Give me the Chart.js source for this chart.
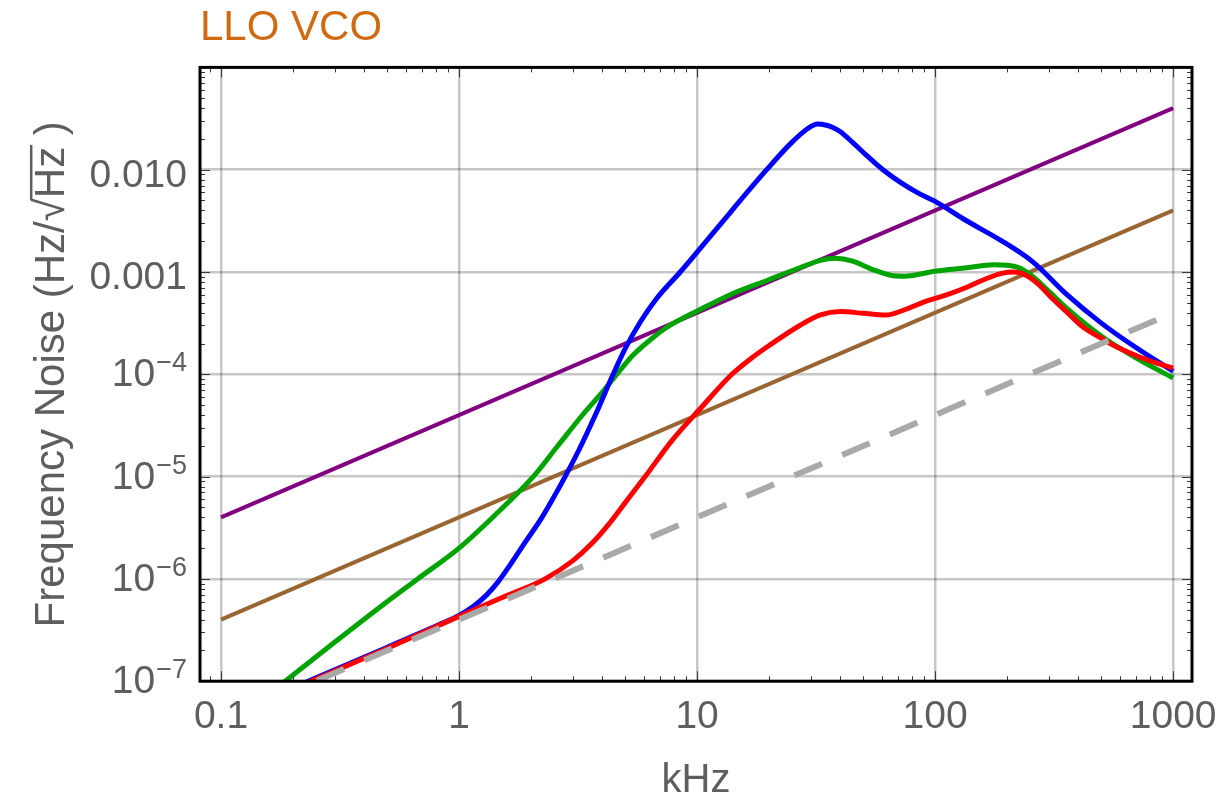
<!DOCTYPE html>
<html>
<head>
<meta charset="utf-8">
<title>LLO VCO</title>
<script src="https://cdn.jsdelivr.net/npm/chart.js@4.4.1/dist/chart.umd.min.js"></script>
<style>
  html, body { margin: 0; padding: 0; background: #ffffff; }
  canvas { display: block; }
</style>
</head>
<body>
<canvas id="noise" width="1232" height="799"></canvas>
<script>
// Frequency axis (kHz) ticks and labels
const xTicks = [0.1, 1, 10, 100, 1000];
const xTickLabels = ['0.1', '1', '10', '100', '1000'];

// Noise axis (Hz/sqrt(Hz)) ticks: mantissa text and superscript exponent
const yTicks = [1e-7, 1e-6, 1e-5, 1e-4, 1e-3, 1e-2];
const yTickBase = ['10', '10', '10', '10', '0.001', '0.010'];
const yTickExp = ['\u22127', '\u22126', '\u22125', '\u22124', '', ''];

// Straight reference lines (purple, brown, grey dashed)
const purpleFreq = [0.1, 1000];
const purpleNoise = [4e-6, 4e-2];
const brownFreq = [0.1, 1000];
const brownNoise = [4e-7, 4e-3];
const grayFreq = [0.1, 1000];
const grayNoise = [4e-8, 4e-4];

// Green curve
const greenFreq = [0.15, 0.186, 0.3, 0.45, 0.67, 1, 1.4, 2.05, 2.6, 3.3, 4, 4.6, 5.4, 6.4, 7.5, 10.3, 14, 20, 27, 33, 38, 45, 55, 65, 75, 88, 100, 136, 176, 220, 258, 300, 358, 500, 680, 1000];
const greenNoise = [6.7e-8, 1e-7, 2.4e-7, 5e-7, 1e-6, 2e-6, 4.1e-6, 1e-5, 2e-5, 4e-5, 6.7e-5, 1e-4, 1.55e-4, 2.2e-4, 2.9e-4, 4.3e-4, 6.1e-4, 8.4e-4, 1.1e-3, 1.3e-3, 1.36e-3, 1.28e-3, 1.05e-3, 9.3e-4, 9.1e-4, 9.6e-4, 1.02e-3, 1.1e-3, 1.18e-3, 1.12e-3, 9e-4, 6.5e-4, 4.4e-4, 2.35e-4, 1.5e-4, 9.2e-5];

// Blue curve
const blueFreq = [0.2, 0.5, 0.83, 1, 1.15, 1.3, 1.45, 1.65, 1.9, 2.2, 2.5, 2.79, 3.2, 3.7, 4.44, 5, 5.8, 6.8, 8.5, 12, 19.6, 25, 29, 32, 35, 37, 40, 45, 51.5, 60, 71, 85, 100, 136, 188, 258, 358, 496, 680, 1000];
const blueNoise = [8.6e-8, 2.15e-7, 3.6e-7, 4.4e-7, 5.4e-7, 6.9e-7, 9.2e-7, 1.4e-6, 2.3e-6, 3.8e-6, 6.3e-6, 1e-5, 1.85e-5, 3.8e-5, 1e-4, 1.8e-4, 3.3e-4, 5.6e-4, 1e-3, 2.6e-3, 1e-2, 1.85e-2, 2.5e-2, 2.8e-2, 2.72e-2, 2.6e-2, 2.35e-2, 1.85e-2, 1.38e-2, 1.01e-2, 7.6e-3, 5.9e-3, 4.9e-3, 3.15e-3, 2.05e-3, 1.25e-3, 6e-4, 3.2e-4, 1.9e-4, 1.07e-4];

// Red curve
const redFreq = [0.2, 0.5, 1, 1.5, 2.3, 3, 3.6, 4.2, 5, 6.05, 7.9, 10.3, 14, 17, 20, 27, 33, 40, 50, 62, 75, 90, 110, 136, 160, 190, 215, 243, 275, 304, 360, 418, 500, 580, 800, 1000];
const redNoise = [8.4e-8, 2.1e-7, 4.3e-7, 6.5e-7, 1e-6, 1.5e-6, 2.2e-6, 3.3e-6, 5.6e-6, 1e-5, 2.3e-5, 4.6e-5, 1e-4, 1.45e-4, 1.9e-4, 3e-4, 3.8e-4, 4.1e-4, 3.95e-4, 3.8e-4, 4.3e-4, 5.1e-4, 5.9e-4, 7.1e-4, 8.4e-4, 9.7e-4, 1e-3, 9.2e-4, 7.4e-4, 5.8e-4, 4e-4, 2.9e-4, 2.25e-4, 1.85e-4, 1.35e-4, 1.15e-4];

const FONT = '"Liberation Sans", Arial, Helvetica, sans-serif';
const LABEL_COLOR = '#5e5e5e';
const GRID_COLOR = 'rgba(0, 0, 0, 0.22)';

const pairs = (f, v) => f.map((x, i) => ({ x: x, y: v[i] }));

// Frame with inward tick marks on all four sides
const frameTicks = {
  id: 'frameTicks',
  afterDatasetsDraw(chart) {
    const { ctx, chartArea: a, scales: { x, y } } = chart;
    ctx.save();
    ctx.strokeStyle = '#3a3a3a';
    ctx.lineWidth = 1;
    const seg = (x1, y1, x2, y2) => { ctx.beginPath(); ctx.moveTo(x1, y1); ctx.lineTo(x2, y2); ctx.stroke(); };
    for (let d = -2; d <= 3; d++) {
      for (let m = 1; m <= 9; m++) {
        const v = m * Math.pow(10, d);
        if (v < x.min || v > x.max) continue;
        const px = Math.round(x.getPixelForValue(v)) + 0.5;
        const len = m === 1 ? 10 : 5;
        seg(px, a.bottom, px, a.bottom - len);
        seg(px, a.top, px, a.top + len);
      }
    }
    for (let d = -8; d <= -1; d++) {
      for (let m = 1; m <= 9; m++) {
        const v = m * Math.pow(10, d);
        if (v < y.min * 0.999 || v > y.max * 1.001) continue;
        const py = Math.round(y.getPixelForValue(v)) + 0.5;
        const len = m === 1 ? 10 : 5;
        seg(a.left, py, a.left + len, py);
        seg(a.right, py, a.right - len, py);
      }
    }
    ctx.strokeStyle = '#000000';
    ctx.lineWidth = 3;
    ctx.strokeRect(a.left, a.top, a.right - a.left, a.bottom - a.top);
    ctx.restore();
  }
};

// Noise-axis labels with superscript exponents, plus the rotated axis title
const noiseAxisText = {
  id: 'noiseAxisText',
  afterDraw(chart) {
    const { ctx, chartArea: a, scales: { y } } = chart;
    ctx.save();
    ctx.fillStyle = LABEL_COLOR;
    ctx.textAlign = 'right';
    ctx.textBaseline = 'alphabetic';
    const right = a.left - 13;
    yTicks.forEach((v, i) => {
      const py = y.getPixelForValue(v);
      const exp = yTickExp[i];
      if (exp) {
        ctx.font = '27px ' + FONT;
        const ew = ctx.measureText(exp).width;
        ctx.fillText(exp, right, py - 3);
        ctx.font = '39px ' + FONT;
        ctx.fillText(yTickBase[i], right - ew - 1, py + 12);
      } else {
        ctx.font = '39px ' + FONT;
        ctx.fillText(yTickBase[i], right, py + 17);
      }
    });

    // axis title: Frequency Noise (Hz/√Hz ) with a bar over the radicand
    const size = 42;
    ctx.font = size + 'px ' + FONT;
    const head = 'Frequency Noise (Hz/';
    const root = '\u221A';
    const rad = 'Hz';
    const tail = ' )';
    const full = head + root + rad + tail;
    const total = ctx.measureText(full).width;
    const wHead = ctx.measureText(head).width;
    const wRoot = ctx.measureText(root).width;
    const wRad = ctx.measureText(rad).width;
    const rootAscent = ctx.measureText(root).actualBoundingBoxAscent;
    const cy = (a.top + a.bottom) / 2;
    ctx.translate(64, cy);
    ctx.rotate(-Math.PI / 2);
    ctx.textAlign = 'left';
    const x0 = -total / 2;
    ctx.fillText(full, x0, 0);
    ctx.strokeStyle = LABEL_COLOR;
    ctx.lineWidth = 2.5;
    ctx.beginPath();
    const barY = -rootAscent + 1.2;
    ctx.moveTo(x0 + wHead + wRoot - 2, barY);
    ctx.lineTo(x0 + wHead + wRoot + wRad + 2, barY);
    ctx.stroke();
    ctx.restore();
  }
};

Chart.defaults.font.family = FONT;

const ds = (label, f, v, color, extra) => Object.assign({
  label: label,
  data: pairs(f, v),
  borderColor: color,
  backgroundColor: color,
  borderWidth: 5,
  pointRadius: 0,
  fill: false,
  clip: 0,
  cubicInterpolationMode: 'monotone'
}, extra || {});

new Chart(document.getElementById('noise'), {
  type: 'line',
  data: {
    datasets: [
      ds('dashed', grayFreq, grayNoise, '#a9a9a9', { borderWidth: 6, borderDash: [30, 22], order: 0 }),
      ds('red', redFreq, redNoise, '#ff0000', { order: 1 }),
      ds('blue', blueFreq, blueNoise, '#0000ff', { order: 2 }),
      ds('green', greenFreq, greenNoise, '#00a400', { order: 3 }),
      ds('brown', brownFreq, brownNoise, '#996633', { order: 4, borderWidth: 4 }),
      ds('purple', purpleFreq, purpleNoise, '#800080', { order: 5, borderWidth: 4 })
    ]
  },
  options: {
    responsive: false,
    animation: false,
    events: [],
    layout: { padding: { left: 200, right: 40, top: 0, bottom: 0 } },
    plugins: {
      legend: { display: false },
      tooltip: { enabled: false },
      title: {
        display: true,
        text: 'LLO VCO',
        align: 'start',
        color: '#cf6a10',
        font: { size: 42, weight: 'normal', family: FONT },
        padding: { top: 3, bottom: 14 }
      }
    },
    scales: {
      x: {
        type: 'logarithmic',
        min: 0.0816,
        max: 1200,
        afterBuildTicks: (s) => { s.ticks = xTicks.map(v => ({ value: v })); },
        border: { display: false },
        grid: { color: GRID_COLOR, lineWidth: 2.5, drawTicks: false },
        ticks: {
          autoSkip: false,
          maxRotation: 0,
          padding: 13,
          color: LABEL_COLOR,
          font: { size: 39 },
          callback: (v, i) => xTickLabels[i]
        },
        title: {
          display: true,
          text: 'kHz',
          color: LABEL_COLOR,
          font: { size: 40, lineHeight: 1.125 },
          padding: { top: 4, bottom: -4 }
        }
      },
      y: {
        type: 'logarithmic',
        min: 1e-7,
        max: 0.1,
        afterBuildTicks: (s) => { s.ticks = yTicks.map(v => ({ value: v })); },
        border: { display: false },
        grid: { color: GRID_COLOR, lineWidth: 2.5, drawTicks: false },
        ticks: { display: false }
      }
    }
  },
  plugins: [frameTicks, noiseAxisText]
});
</script>
</body>
</html>
